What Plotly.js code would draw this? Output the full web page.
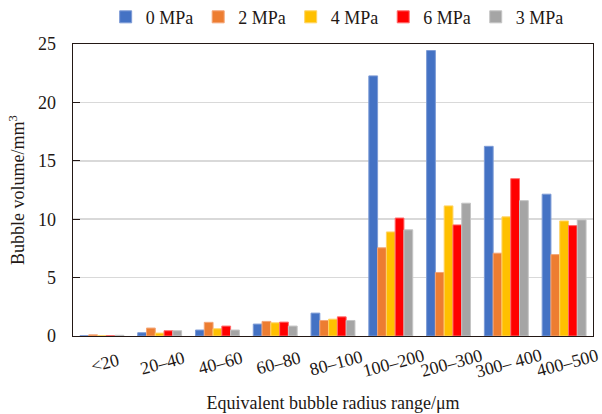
<!DOCTYPE html>
<html>
<head>
<meta charset="utf-8">
<script src="https://cdn.plot.ly/plotly-3.0.1.min.js"></script>
<style>html,body{margin:0;padding:0;background:#fff;}#chart{width:602px;height:414px;}</style>
</head>
<body>
<div id="chart"></div>
<script>
var categories = ["<20", "20–40", "40–60", "60–80", "80–100", "100–200", "200–300", "300– 400", "400–500"];
var seriesNames = ["0 MPa", "2 MPa", "4 MPa", "6 MPa", "3 MPa"];
var p0 = [0.02, 0.28, 0.51, 1.02, 1.96, 22.27, 24.44, 16.24, 12.14];
var p2 = [0.10, 0.68, 1.17, 1.25, 1.33, 7.55, 5.44, 7.09, 6.97];
var p4 = [0.02, 0.25, 0.62, 1.13, 1.44, 8.91, 11.14, 10.20, 9.85];
var p6 = [0.02, 0.45, 0.85, 1.19, 1.64, 10.10, 9.51, 13.47, 9.45];
var p3 = [0.06, 0.45, 0.51, 0.85, 1.33, 9.09, 11.37, 11.59, 9.94];
var yTicks = [0, 5, 10, 15, 20, 25];

var values = [p0, p2, p4, p6, p3];
var colors = ["#4472C4", "#ED7D31", "#FFC000", "#FF0000", "#A5A5A5"];
var edges = ["#7d9bd6", "#f4a576", "#ffd466", "#ff6b6b", "#c4c4c4"];
var font = "Liberation Serif";
var ink = "#231815";

var traces = values.map(function (v, i) {
  return {
    type: "bar",
    name: seriesNames[i],
    x: categories,
    y: v,
    marker: {color: colors[i], line: {color: edges[i], width: 1}}
  };
});

// category tick labels, centred under each group and tilted
var tickLabels = categories.map(function (c) {
  return {
    xref: "x", yref: "paper", x: c, y: 0,
    text: c.replace("<", "&lt;"), showarrow: false,
    textangle: -15, xanchor: "center", yanchor: "middle",
    xshift: 3, yshift: -27,
    font: {family: font, size: 18, color: ink}
  };
});

var layout = {
  width: 602, height: 414,
  margin: {l: 73, r: 9, t: 44, b: 78, autoexpand: false},
  paper_bgcolor: "#fff", plot_bgcolor: "#fff",
  font: {family: font, size: 18, color: ink},
  barmode: "group", bargap: 0.24, bargroupgap: 0,
  showlegend: true,
  legend: {orientation: "h", x: 0.508, xanchor: "center", y: 1.092, yanchor: "middle",
           font: {family: font, size: 18, color: ink}, traceorder: "normal"},
  annotations: tickLabels,
  xaxis: {
    type: "category", range: [-0.5, categories.length - 0.5], autorange: false,
    showline: true, mirror: true, linecolor: ink, linewidth: 1.3,
    ticks: "", showticklabels: false,
    automargin: false,
    title: {text: "Equivalent bubble radius range/μm", font: {family: font, size: 18, color: ink}, standoff: 60}
  },
  yaxis: {
    range: [0, 25], autorange: false, tickvals: yTicks, ticktext: yTicks.map(String),
    showline: true, mirror: true, linecolor: ink, linewidth: 1.3,
    ticks: "inside", ticklen: 7, tickcolor: ink, tickwidth: 1.3,
    ticklabelstandoff: 12,
    showgrid: true, gridcolor: "#d9d9d9", gridwidth: 1.5,
    zeroline: false,
    tickfont: {family: font, size: 18, color: ink},
    automargin: false,
    title: {text: "Bubble volume/mm<sup>3</sup>", font: {family: font, size: 18, color: ink}, standoff: 8}
  }
};

Plotly.newPlot("chart", traces, layout, {displayModeBar: false, staticPlot: true});
</script>
</body>
</html>
